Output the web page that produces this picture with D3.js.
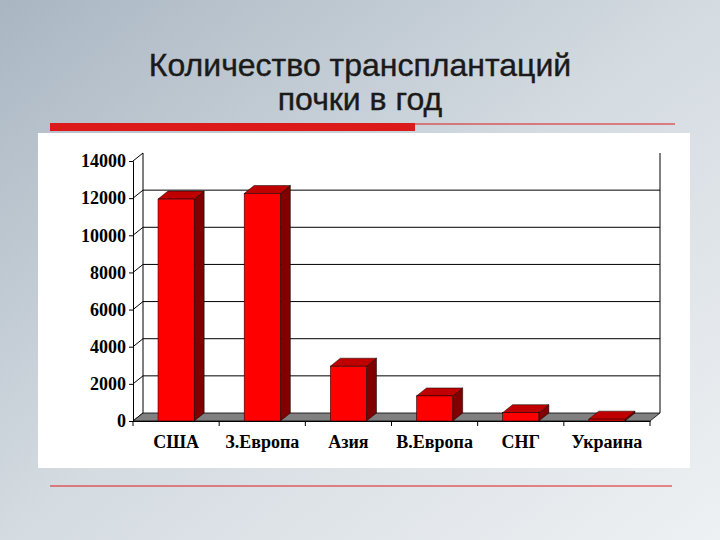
<!DOCTYPE html>
<html><head><meta charset="utf-8">
<script src="https://cdn.jsdelivr.net/npm/d3@7"></script>
<style>body{margin:0}svg{display:block}</style>
</head><body>
<svg id="c" width="720" height="540"></svg>
<script>
const categories = ["США", "З.Европа", "Азия", "В.Европа", "СНГ", "Украина"];
const values = [11950, 12250, 2950, 1350, 450, 100];
const yTicks = [0, 2000, 4000, 6000, 8000, 10000, 12000, 14000];

const svg = d3.select("#c");
const defs = svg.append("defs");
const bg = defs.append("linearGradient").attr("id", "bg").attr("x1", 0).attr("y1", 0).attr("x2", 1).attr("y2", 1);
bg.append("stop").attr("offset", 0).attr("stop-color", "#a9b6c2");
bg.append("stop").attr("offset", 0.5).attr("stop-color", "#d4dbe1");
bg.append("stop").attr("offset", 1).attr("stop-color", "#eef1f3");
svg.append("rect").attr("width", 720).attr("height", 540).attr("fill", "url(#bg)");

svg.append("text").attr("x", 360).attr("y", 76).attr("text-anchor", "middle")
  .attr("font-family", "Liberation Sans, Arial, sans-serif").attr("font-size", 32)
  .attr("fill", "#1a1a1a").attr("stroke", "#1a1a1a").attr("stroke-width", 0.4).text("Количество трансплантаций");
svg.append("text").attr("x", 360).attr("y", 110).attr("text-anchor", "middle")
  .attr("font-family", "Liberation Sans, Arial, sans-serif").attr("font-size", 32)
  .attr("fill", "#1a1a1a").attr("stroke", "#1a1a1a").attr("stroke-width", 0.4).text("почки в год");

svg.append("rect").attr("x", 50).attr("y", 123).attr("width", 365).attr("height", 8).attr("fill", "#dd1a1a");
svg.append("line").attr("x1", 415).attr("x2", 675).attr("y1", 124).attr("y2", 124).attr("stroke", "#dd1a1a");
svg.append("line").attr("x1", 50).attr("x2", 672).attr("y1", 486).attr("y2", 486).attr("stroke", "#dd1a1a");

svg.append("rect").attr("x", 38).attr("y", 133).attr("width", 652).attr("height", 335).attr("fill", "#fff");

const dx = 10, dy = -8;
const x = d3.scaleBand().domain(categories).range([133, 650]).paddingInner(0.58).paddingOuter(0.29);
const y = d3.scaleLinear().domain([0, 14000]).range([421, 161]);

const g = svg.append("g");
// back wall gridlines and axis
yTicks.forEach(t => {
  if (t > 0 && t < 14000) g.append("line").attr("x1", 133 + dx).attr("x2", 650 + dx)
    .attr("y1", y(t) + dy).attr("y2", y(t) + dy).attr("stroke", "#000");
  g.append("line").attr("x1", 133).attr("x2", 133 + dx).attr("y1", y(t)).attr("y2", y(t) + dy).attr("stroke", "#000");
});
g.append("line").attr("x1", 133 + dx).attr("x2", 133 + dx).attr("y1", y(0) + dy).attr("y2", y(14000) + dy).attr("stroke", "#000");
g.append("line").attr("x1", 650 + dx).attr("x2", 650 + dx).attr("y1", y(0) + dy).attr("y2", y(14000) + dy).attr("stroke", "#000");
// floor
g.append("path").attr("d", `M133,${y(0)}L${133 + dx},${y(0) + dy}L${650 + dx},${y(0) + dy}L650,${y(0)}Z`)
  .attr("fill", "#808080").attr("stroke", "#000").attr("stroke-width", 0.8);

// bars
categories.forEach((c, i) => {
  const x0 = x(c), w = x.bandwidth(), top = y(values[i]), bot = y(0);
  g.append("path").attr("d", `M${x0 + w},${top}L${x0 + w + dx},${top + dy}L${x0 + w + dx},${bot + dy}L${x0 + w},${bot}Z`)
    .attr("fill", "#800000").attr("stroke", "#000").attr("stroke-width", 0.5);
  g.append("path").attr("d", `M${x0},${top}L${x0 + dx},${top + dy}L${x0 + w + dx},${top + dy}L${x0 + w},${top}Z`)
    .attr("fill", "#c00000").attr("stroke", "#000").attr("stroke-width", 0.5);
  g.append("rect").attr("x", x0).attr("y", top).attr("width", w).attr("height", bot - top)
    .attr("fill", "#ff0000").attr("stroke", "#000").attr("stroke-width", 0.5);
});

// front axes
const ya = g.append("g").attr("transform", "translate(133,0)")
  .call(d3.axisLeft(y).tickValues(yTicks).tickSize(4).tickFormat(d3.format("d")));
const xa = g.append("g").attr("transform", `translate(0,${y(0)})`)
  .call(d3.axisBottom(x).tickSize(0).tickPadding(14));
d3.range(7).forEach(k => {
  g.append("line").attr("x1", 133 + k * 517 / 6).attr("x2", 133 + k * 517 / 6)
    .attr("y1", y(0)).attr("y2", y(0) + 5).attr("stroke", "#000");
});
[ya, xa].forEach(a => {
  a.selectAll("text").attr("font-family", "Liberation Serif, serif").attr("font-weight", "bold")
    .attr("font-size", 18).attr("fill", "#000");
  a.select(".domain").attr("stroke", "#000");
});
</script>
</body></html>
